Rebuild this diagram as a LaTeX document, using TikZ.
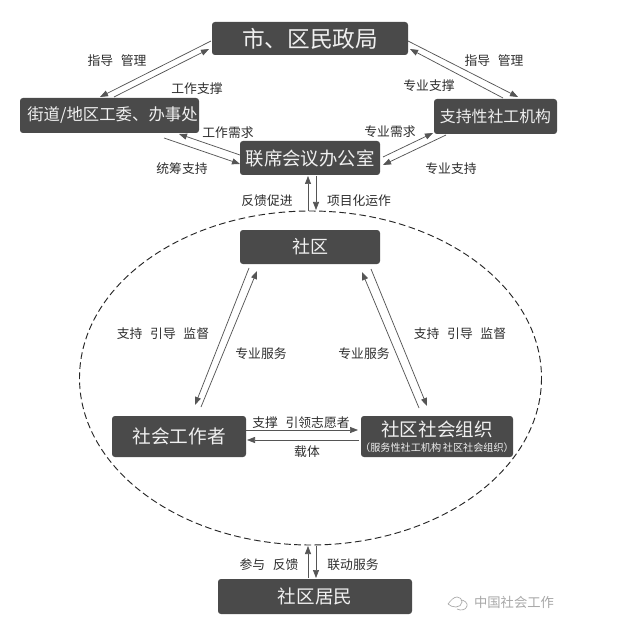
\documentclass[tikz,border=0pt]{standalone}
\usepackage{fontspec}
\setmainfont{Noto Sans CJK SC}
\usetikzlibrary{arrows.meta}
\definecolor{boxc}{HTML}{4A4A4A}
\definecolor{linec}{HTML}{555555}
\definecolor{txtc}{HTML}{2E2E2E}
\definecolor{wmark}{HTML}{A8A8A8}
\tikzset{
 x=0.75pt,y=-0.75pt,
 darkbox/.style={fill=boxc,draw=none,rounded corners=2.2pt,text=white!94!black,inner sep=0pt,anchor=center},
 boxtext/.style={text=white!94!black,inner sep=0pt},
 lab/.style={text=txtc,font=\fontsize{9.6pt}{10pt}\selectfont,inner sep=0pt},
 conn/.style={draw=linec,line width=0.55pt,-{Triangle[length=6pt,width=4.5pt]}},
}
\newcommand{\dbox}[7]{\node[darkbox,minimum width=#4*0.75pt,minimum height=#5*0.75pt,font=\fontsize{#6pt}{#6pt}\selectfont] (#1) at (#2,#3) {#7};}
\newcommand{\lnk}[4]{\draw[conn] ([shift={(#2)}]#1.center) -- ([shift={(#4)}]#3.center);}
\newcommand{\wgap}{\hspace{0.6em}}
\begin{document}
\begin{tikzpicture}
\useasboundingbox (0,0) rectangle (623,627);
\fill[white] (0,0) rectangle (623,627);
\dbox{mz}{310}{38.5}{196}{33}{17}{市、区民政局}
\dbox{jd}{109.5}{115.5}{179}{35}{12.3}{\hspace*{4.5pt}街道/地区工委、办事处}
\dbox{zc}{495.5}{116.5}{123}{35}{11.9}{支持性社工机构}
\dbox{lx}{310}{158}{140}{34}{13.8}{联席会议办公室}
\dbox{sq}{310}{247}{140}{34}{13.5}{社区}
\dbox{sg}{179}{436.5}{134}{41}{14}{社会工作者}
\node[darkbox,minimum width=152*0.75pt,minimum height=41*0.75pt] (zz) at (437,436.5) {};
\node[boxtext,font=\fontsize{13.9pt}{14pt}\selectfont] (zz1) at (437,429.5) {社区社会组织};
\node[boxtext,font=\fontsize{7.6pt}{8pt}\selectfont] (zz2) at (437,447.5) {（服务性社工机构\,社区社会组织）};
\dbox{jm}{315}{596.5}{194}{35}{13.9}{社区居民}
\draw[dash pattern=on 5pt off 2.6pt,line width=0.7pt,draw=black!85] (310.5,378) ellipse [x radius=231,y radius=167];
\coordinate (etop) at (312,211);
\coordinate (ebot) at (312,546);
\lnk{mz}{-99,2.5}{jd}{-9.5,-18.5}
\lnk{jd}{4.5,-18.5}{mz}{-101,10.5}
\lnk{mz}{98,2.5}{zc}{22.5,-19.5}
\lnk{zc}{7.5,-18.5}{mz}{100,10.5}
\lnk{lx}{-70,-3}{jd}{69.5,18.5}
\lnk{jd}{54.5,22.5}{lx}{-70,6}
\lnk{lx}{73,-1}{zc}{-62.5,16.5}
\lnk{zc}{-49.5,18.5}{lx}{73,7}
\draw[conn] ([xshift=-3pt]etop) -- ([shift={(-2,18)}]lx.center);
\draw[conn] ([shift={(6,18)}]lx.center) -- ([xshift=3pt,yshift=0.75pt]etop);
\lnk{sq}{-61,21}{sg}{16,-31.5}
\lnk{sg}{22,-29.5}{sq}{-53,24}
\lnk{sq}{61,22}{zz}{-10,-30.5}
\lnk{zz}{-18,-28.5}{sq}{52,25}
\lnk{sg}{67,-6.5}{zz}{-79,-6.5}
\lnk{zz}{-78,3.5}{sg}{68,3.5}
\draw[conn] ([shift={(-7,-18.5)}]jm.center) -- ([xshift=-3pt]ebot);
\draw[conn] ([xshift=3pt]ebot) -- ([shift={(1,-18.5)}]jm.center);
\node[lab] (l1) at (117,61) {指导\wgap 管理};
\node[lab] (l2) at (197,89) {工作支撑};
\node[lab] (l3) at (228,133) {工作需求};
\node[lab] (l4) at (182,169) {统筹支持};
\node[lab] (l5) at (267,201) {反馈促进};
\node[lab] (l6) at (494,61) {指导\wgap 管理};
\node[lab] (l7) at (429,86) {专业支撑};
\node[lab] (l8) at (390,132) {专业需求};
\node[lab] (l9) at (451,169) {专业支持};
\node[lab] (l10) at (359,201) {项目化运作};
\node[lab] (l11) at (163,334) {支持\wgap 引导\wgap 监督};
\node[lab] (l12) at (261,354) {专业服务};
\node[lab] (l13) at (460,334) {支持\wgap 引导\wgap 监督};
\node[lab] (l14) at (364,354) {专业服务};
\node[lab] (l15) at (301,423) {支撑\wgap 引领志愿者};
\node[lab] (l16) at (307,452) {载体};
\node[lab] (l17) at (269,565) {参与\wgap 反馈};
\node[lab] (l18) at (353,565) {联动服务};
\node[text=wmark,inner sep=0pt,font=\fontsize{10pt}{10pt}\selectfont] (wm) at (514,602) {中国社会工作};
\draw[wmark,line width=0.5pt] (448,604) .. controls (451,600) and (454,597) .. (457,597) .. controls (460,597) and (462,599) .. (462,602) .. controls (462,605) and (459,607) .. (456,607) .. controls (453,607) and (450,606) .. (448,604);
\draw[wmark,line width=0.5pt] (461,600) .. controls (464,600) and (468,603) .. (467,606) .. controls (466,610) and (461,611) .. (457,609);
\end{tikzpicture}
\end{document}
